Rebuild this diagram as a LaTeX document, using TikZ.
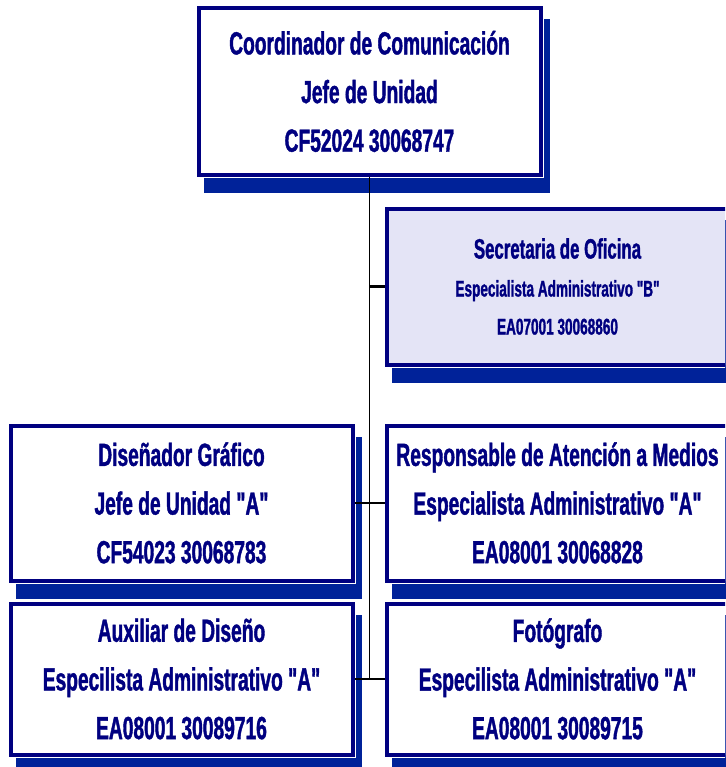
\documentclass[tikz,border=0pt]{standalone}
\usepackage{fontspec}
\newfontfamily\boxfont{Liberation Sans}[FakeStretch=0.6,FakeBold=1.2]
\usetikzlibrary{calc,backgrounds}
\definecolor{navyc}{RGB}{0,0,128}
\definecolor{shadowblue}{RGB}{0,34,153}
\definecolor{lavender}{RGB}{228,228,246}
\tikzset{
  orgbox/.style={draw=navyc, line width=3pt, fill=white,
    preaction={draw=white, line width=4.8pt},
    minimum width=256.5pt, inner sep=0pt, align=center, text=navyc,
    font=\boxfont\bfseries\fontsize{24pt}{36.5pt}\selectfont},
  secbox/.style={orgbox, fill=lavender,
    font=\boxfont\bfseries\fontsize{17pt}{28.5pt}\selectfont},
  spine/.style={draw=black, line width=0.9pt},
  conn/.style={draw=black, line width=1.6pt},
  shadowfill/.style={fill=shadowblue}
}
\begin{document}
\begin{tikzpicture}[x=0.75pt,y=-0.75pt]
\useasboundingbox (0,0) rectangle (725,767);
\clip (0,0) rectangle (725,767);

\node[orgbox, minimum height=124.5pt] (top) at (369.5,91.5)
  {Coordinador de Comunicación\\Jefe de Unidad\\CF52024 30068747};
\node[secbox, minimum height=117pt] (sec) at (557.5,286.5)
  {{\fontsize{21pt}{28.5pt}\selectfont Secretaria de Oficina}\\Especialista Administrativo "B"\\EA07001 30068860};
\node[orgbox, minimum height=116.25pt] (dis) at (181.5,503)
  {Diseñador Gráfico\\Jefe de Unidad "A"\\CF54023 30068783};
\node[orgbox, minimum height=116.25pt] (resp) at (557.5,503)
  {Responsable de Atención a Medios\\Especialista Administrativo "A"\\EA08001 30068828};
\node[orgbox, minimum height=113.25pt] (aux) at (181.5,679)
  {Auxiliar de Diseño\\Especilista Administrativo "A"\\EA08001 30089716};
\node[orgbox, minimum height=113.25pt] (foto) at (557.5,679)
  {Fotógrafo\\Especilista Administrativo "A"\\EA08001 30089715};

\begin{scope}[on background layer]
  \foreach \n in {top,sec,dis,resp,aux,foto}{
    \fill[shadowfill] ($(\n.north west)+(7,13)$) rectangle ($(\n.south east)+(7,16)$);
  }
\end{scope}

\draw[spine] (top.south) -- (top.south |- aux.east);
\draw[conn] (sec.west) -- (sec.west -| top.south);
\draw[conn] (dis.east) -- (resp.west);
\draw[conn] (aux.east) -- (foto.west);
\end{tikzpicture}
\end{document}
